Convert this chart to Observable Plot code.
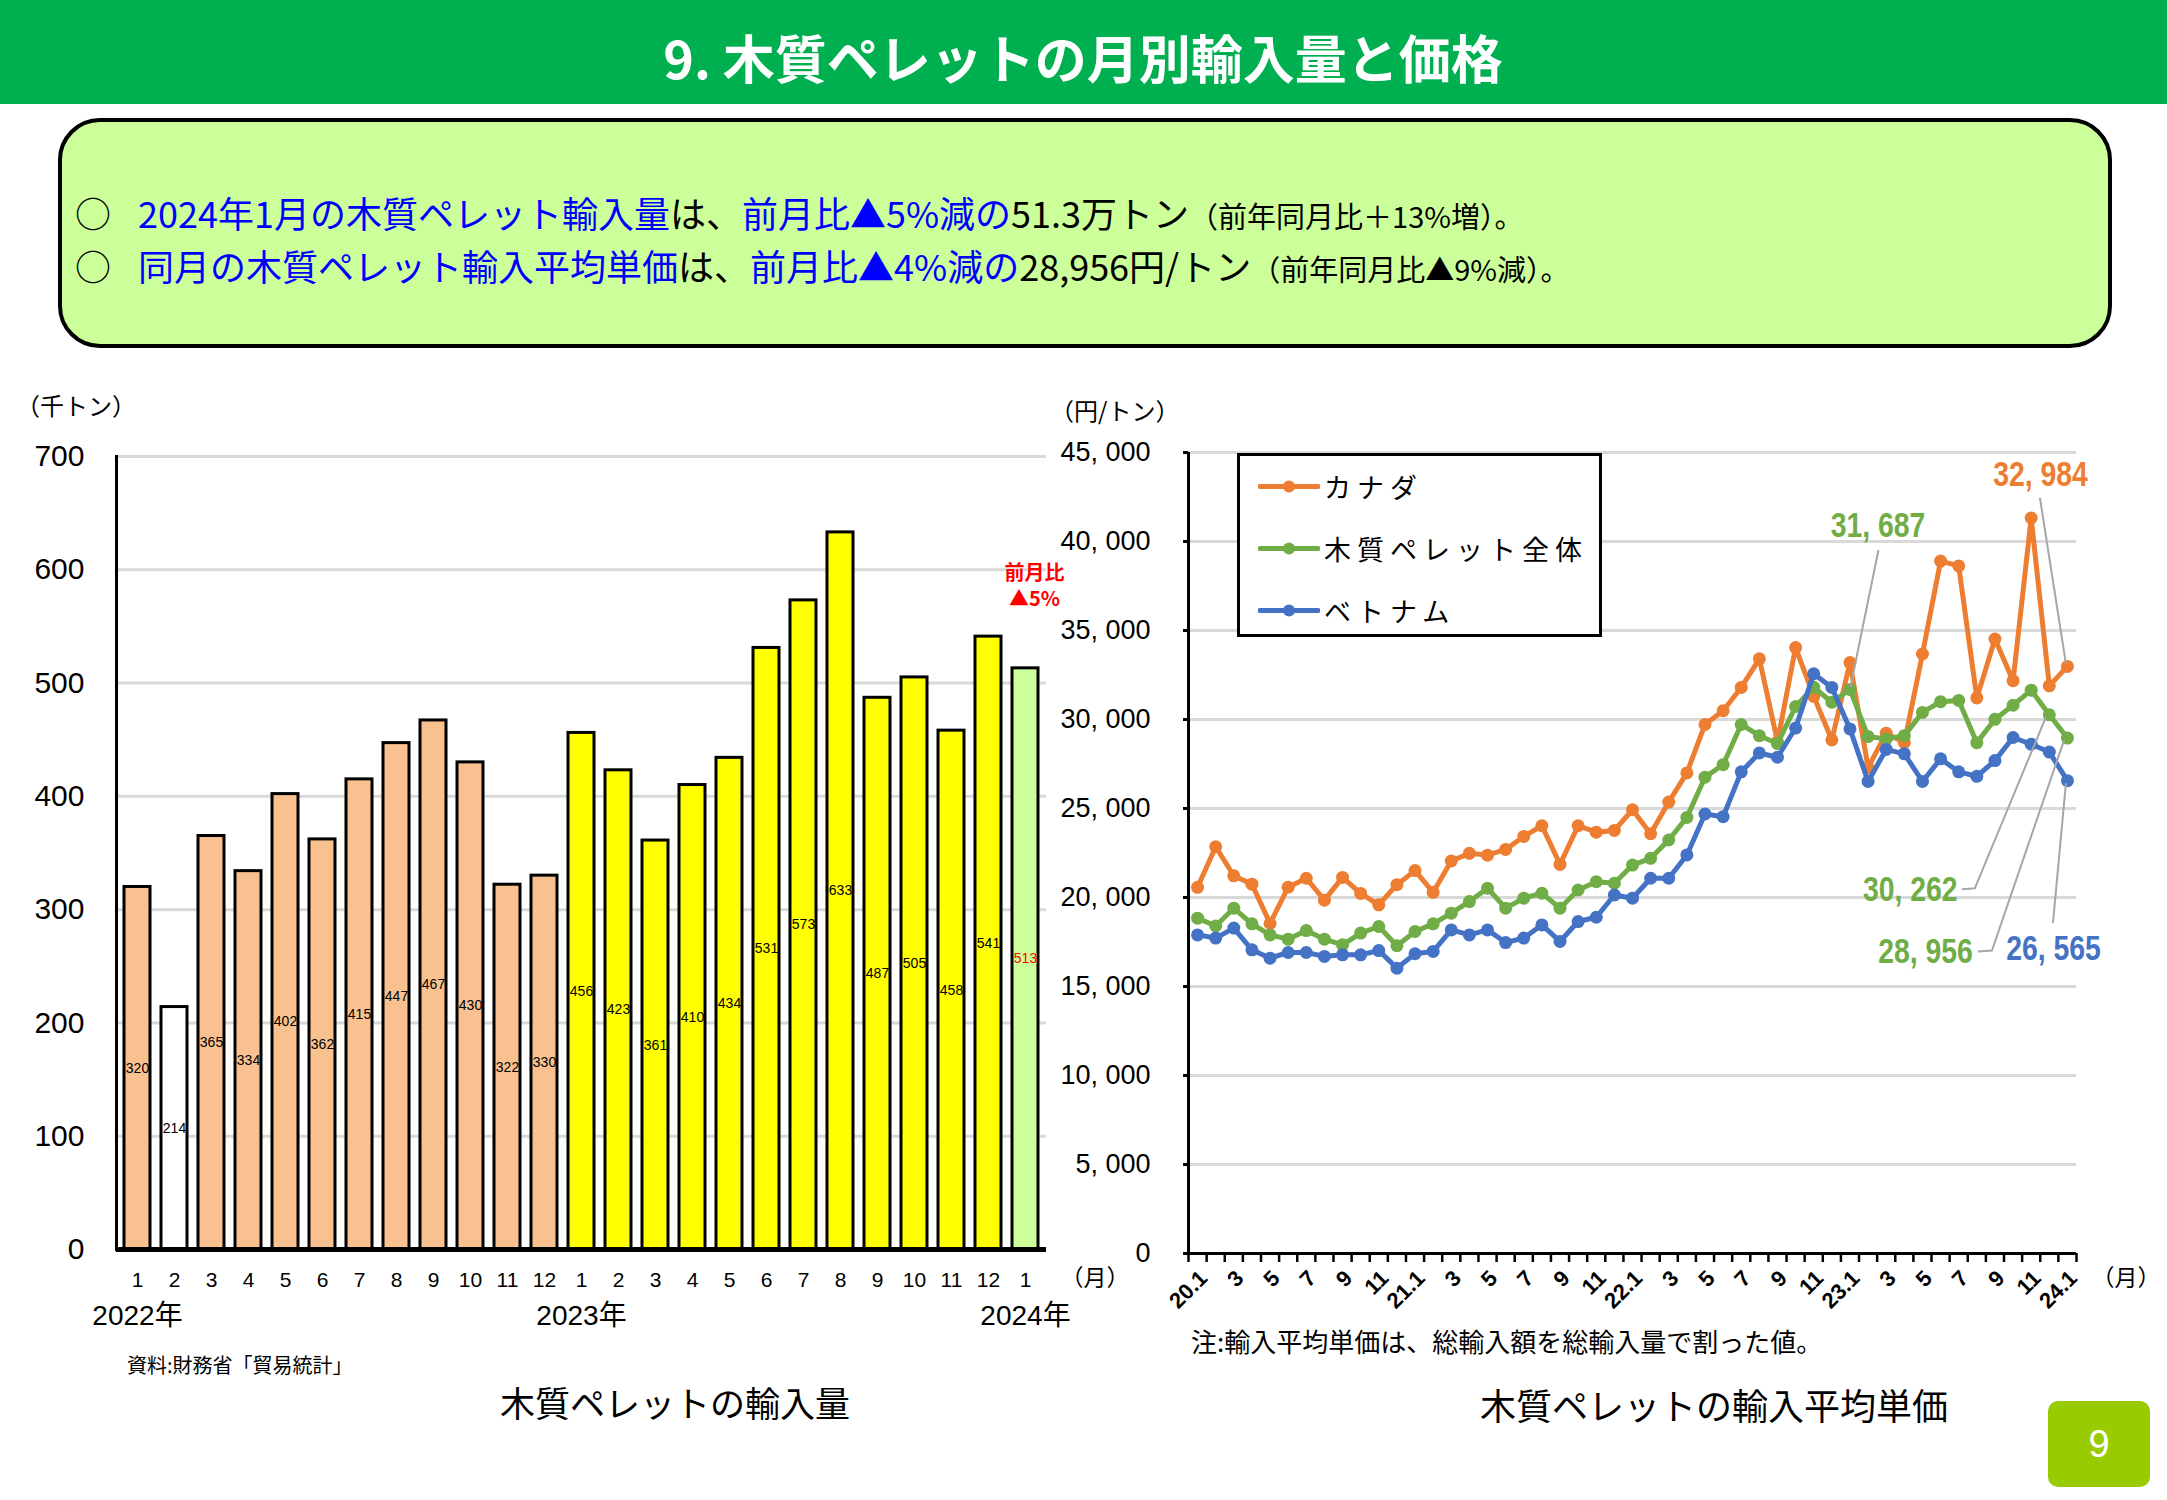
<!DOCTYPE html>
<html>
<head>
<meta charset="utf-8">
<script src="https://cdn.jsdelivr.net/npm/d3@7"></script>
<script src="https://cdn.jsdelivr.net/npm/@observablehq/plot@0.6"></script>
<style>
  body { margin: 0; background: #fff; }
  #page { position: relative; width: 2167px; height: 1500px; overflow: hidden; font-family: 'Noto Sans CJK JP', sans-serif; color: #000; background: #fff; }
  .abs { position: absolute; white-space: nowrap; }
  .blue { color: #0000ff; }
</style>
</head>
<body>
<div id="page">
  <div class="abs" style="left:0;top:0;width:2167px;height:104px;background:#00B050;"></div>
  <div class="abs" style="left:1083px;top:56px;transform:translate(-50%,-50%);color:#fff;font-size:52px;font-weight:bold;">9. 木質ペレットの月別輸入量と価格</div>

  <div class="abs" style="left:58px;top:118px;width:2054px;height:230px;box-sizing:border-box;border:4px solid #000;border-radius:42px;background:#CCFF99;"></div>
  <div class="abs" style="left:75px;top:212px;transform:translateY(-50%);font-size:36px;line-height:1;">
    <span>○</span><span class="blue" style="margin-left:27px;">2024年1月の木質ペレット輸入量</span>は、<span class="blue">前月比▲5%減の</span>51.3万トン<span style="font-size:29px;">（前年同月比＋13%増）。</span>
  </div>
  <div class="abs" style="left:75px;top:265px;transform:translateY(-50%);font-size:36px;line-height:1;">
    <span>○</span><span class="blue" style="margin-left:27px;">同月の木質ペレット輸入平均単価</span>は、<span class="blue">前月比▲4%減の</span>28,956円/トン<span style="font-size:29px;">（前年同月比▲9%減）。</span>
  </div>

  <div class="abs" style="left:16px;top:404px;transform:translateY(-50%);font-size:24px;">（千トン）</div>
  <div class="abs" style="left:1050px;top:409px;transform:translateY(-50%);font-size:24px;">（円/トン）</div>

  <div id="bars" class="abs" style="left:0;top:420px;width:1150px;height:900px;"></div>
  <div id="lines" class="abs" style="left:1040px;top:420px;width:1127px;height:900px;"></div>

  <div class="abs" style="left:1095px;top:1276px;transform:translate(-50%,-50%);font-size:23px;">（月）</div>
  <div class="abs" style="left:2126px;top:1276px;transform:translate(-50%,-50%);font-size:23px;">（月）</div>

  <div class="abs" style="left:127px;top:1364px;transform:translateY(-50%);font-size:20px;">資料:財務省「貿易統計」</div>
  <div class="abs" style="left:1191px;top:1340px;transform:translateY(-50%);font-size:26px;">注:輸入平均単価は、総輸入額を総輸入量で割った値。</div>
  <div class="abs" style="left:675px;top:1401px;transform:translate(-50%,-50%);font-size:35px;">木質ペレットの輸入量</div>
  <div class="abs" style="left:1714px;top:1404px;transform:translate(-50%,-50%);font-size:36px;">木質ペレットの輸入平均単価</div>

  <div class="abs" style="left:2048px;top:1401px;width:102px;height:86px;border-radius:10px;background:#99CC00;color:#fff;font-family:'Liberation Sans',Arial,sans-serif;font-size:38px;line-height:86px;text-align:center;">9</div>

  <div id="legend" class="abs" style="left:1237px;top:453px;width:365px;height:184px;box-sizing:border-box;border:3px solid #000;background:#fff;"></div>
</div>

<script>
// ---------------- data ----------------
const barMonths = ["1","2","3","4","5","6","7","8","9","10","11","12",
                   "1","2","3","4","5","6","7","8","9","10","11","12","1"];
const barYears  = [2022,2022,2022,2022,2022,2022,2022,2022,2022,2022,2022,2022,
                   2023,2023,2023,2023,2023,2023,2023,2023,2023,2023,2023,2023,2024];
const barValues = [320,214,365,334,402,362,415,447,467,430,322,330,
                   456,423,361,410,434,531,573,633,487,505,458,541,513];
const barTicks = [0,100,200,300,400,500,600,700];

const priceMonths = ["20.1","2","3","4","5","6","7","8","9","10","11","12",
                     "21.1","2","3","4","5","6","7","8","9","10","11","12",
                     "22.1","2","3","4","5","6","7","8","9","10","11","12",
                     "23.1","2","3","4","5","6","7","8","9","10","11","12",
                     "24.1"];
const canada = [20570,22850,21220,20750,18540,20580,21080,19850,21130,20230,19590,20720,
                21510,20290,22050,22480,22380,22700,23430,24030,21860,24030,23670,23770,
                24930,23580,25360,27000,29720,30490,31800,33410,28750,34040,31300,28850,
                33200,27300,29230,28700,33680,38900,38630,31210,34520,32180,41320,31890,
                32984];
const pelletTotal = [18840,18400,19400,18520,17900,17660,18140,17660,17340,18000,18370,17290,
                     18090,18520,19120,19770,20520,19400,19960,20240,19400,20420,20890,20800,
                     21820,22200,23230,24500,26760,27460,29720,29090,28650,30730,31810,30970,
                     31687,29040,28900,29090,30400,31000,31070,28700,30010,30800,31650,30262,
                     28956];
const vietnam = [17900,17720,18280,17060,16590,16910,16910,16690,16780,16780,17020,16030,
                 16840,16970,18180,17900,18180,17470,17720,18460,17530,18650,18890,20140,
                 19960,21080,21080,22390,24690,24540,27060,28120,27880,29520,32570,31800,
                 29470,26520,28320,28070,26520,27790,27060,26810,27690,28990,28610,28170,
                 26565];
const priceTicks = [0,5000,10000,15000,20000,25000,30000,35000,40000,45000];
const seriesNames = ["カナダ","木質ペレット全体","ベトナム"];

// ---------------- styles ----------------
const seriesColors = ["#ED7D31","#70AD47","#4472C4"];
const yearFill = {2022:"#F9C090", 2023:"#FFFF00", 2024:"#CCFF99"};
const latinFont = "'Liberation Sans', Arial, 'Noto Sans CJK JP', sans-serif";
const narrowFont = "'Liberation Sans Narrow', 'Arial Narrow', 'Liberation Sans', sans-serif";

// ---------------- bar chart ----------------
const barKeys = barValues.map((v, i) => barYears[i] + "-" + barMonths[i]);
const barData = barValues.map((v, i) => ({key: barKeys[i], year: barYears[i], month: barMonths[i], value: v}));
const lastBar = barData[barData.length - 1];

const barPlot = Plot.plot({
  width: 1150, height: 900,
  marginLeft: 116, marginRight: 104, marginTop: 36, marginBottom: 71,
  style: {fontFamily: latinFont, background: "transparent", overflow: "visible", color: "#000"},
  x: {type: "band", domain: barKeys, paddingInner: 0.3, paddingOuter: 0.15, axis: null},
  y: {domain: [0, 700], axis: null},
  color: {type: "identity"},
  marks: [
    Plot.gridY(barTicks, {stroke: "#d9d9d9", strokeOpacity: 1, strokeWidth: 3}),
    Plot.axisY(barTicks, {tickSize: 0, tickPadding: 32, fontSize: 30, label: null}),
    Plot.axisX(barKeys, {tickSize: 0, tickPadding: 23, fontSize: 21, label: null,
                         tickFormat: k => barMonths[barKeys.indexOf(k)]}),
    Plot.barY(barData, {x: "key", y: "value",
      fill: d => (d.year === 2022 && d.month === "2") ? "#ffffff" : yearFill[d.year],
      stroke: "#000", strokeWidth: 3}),
    Plot.text(barData, {x: "key", y: d => d.value / 2, text: d => String(d.value),
      fill: d => d === lastBar ? "#ff0000" : "#000000", fontSize: 14}),
    Plot.text(barData.filter((d, i) => i === 0 || d.year !== barData[i - 1].year),
      {x: "key", text: d => d.year + "年", frameAnchor: "bottom", dy: 75, fontSize: 28}),
    Plot.text([lastBar], {x: "key", y: "value", text: () => "前月比\n▲5%", lineAnchor: "bottom",
      dx: 9, dy: -62, lineHeight: 1.3, fill: "#ff0000", fontWeight: "bold", fontSize: 20,
      fontFamily: "'Noto Sans CJK JP', sans-serif"}),
    Plot.ruleY([0], {stroke: "#000", strokeWidth: 5}),
    Plot.frame({anchor: "left", stroke: "#000", strokeWidth: 3})
  ]
});
document.getElementById("bars").appendChild(barPlot);

// ---------------- line chart ----------------
const seriesValues = [canada, pelletTotal, vietnam];
const lineData = seriesNames.flatMap((s, k) => seriesValues[k].map((v, i) => ({series: s, k, i, v})));
const labelIdx = priceMonths.map((m, i) => i).filter(i => priceMonths[i].includes(".") || (+priceMonths[i]) % 2 === 1);
const boundaries = d3.range(priceMonths.length + 1).map(i => i - 0.5);
const fmtYen = d => d3.format(",")(d).replace(",", ", ");

// annotation layout (pixel offsets from the annotated point)
const notes = [
  {k: 0, i: 48, dx: -27, dy: -192, leader: [[-1, -2], [-27, -168]]},
  {k: 1, i: 36, dx: 28,  dy: -164, leader: [[1, -2], [29, -139]]},
  {k: 1, i: 47, dx: -139, dy: 175, leader: [[-87, 175], [-74, 174], [-3, 3]]},
  {k: 1, i: 48, dx: -142, dy: 214, leader: [[-89, 214], [-75, 213], [-3, 3]]},
  {k: 2, i: 48, dx: -14, dy: 168, leader: [[-14, 143], [-1, 3]]}
];

const seriesMarks = seriesNames.flatMap((s, k) => {
  const d = lineData.filter(e => e.k === k);
  return [
    Plot.line(d, {x: "i", y: "v", stroke: seriesColors[k], strokeWidth: 5}),
    Plot.dot(d, {x: "i", y: "v", fill: seriesColors[k], r: 6.5})
  ];
});
const noteMarks = notes.map(n => Plot.text([{i: n.i, v: seriesValues[n.k][n.i]}], {
  x: "i", y: "v", text: d => fmtYen(d.v), dx: n.dx, dy: n.dy,
  fill: seriesColors[n.k], fontWeight: "bold", fontSize: 35, fontFamily: narrowFont
}));

const linePlot = Plot.plot({
  width: 1127, height: 900,
  marginLeft: 148, marginRight: 91, marginTop: 32, marginBottom: 67,
  style: {fontFamily: latinFont, background: "transparent", overflow: "visible", color: "#000"},
  x: {type: "linear", domain: [-0.5, priceMonths.length - 0.5], axis: null},
  y: {domain: [0, 45000], axis: null},
  marks: [
    Plot.gridY(priceTicks, {stroke: "#d9d9d9", strokeOpacity: 1, strokeWidth: 3}),
    Plot.axisY(priceTicks, {tickSize: 5, tickPadding: 33, fontSize: 27, label: null, tickFormat: fmtYen, strokeWidth: 3}),
    Plot.axisX(boundaries, {tickSize: 9, tickFormat: () => "", label: null, strokeWidth: 2.5}),
    Plot.axisX(labelIdx, {tickSize: 0, tickPadding: 15, rotate: -45, textAnchor: "end", fontSize: 22,
      fontWeight: "bold", label: null, tickFormat: i => priceMonths[i]}),
    ...seriesMarks,
    Plot.ruleY([0], {stroke: "#000", strokeWidth: 3}),
    Plot.ruleX([-0.5], {stroke: "#000", strokeWidth: 3}),
    ...noteMarks
  ]
});
document.getElementById("lines").appendChild(linePlot);

// condense the value labels (narrow bold look of the original)
const noteTexts = new Set(notes.map(n => fmtYen(seriesValues[n.k][n.i])));
d3.select(linePlot).selectAll("text").each(function () {
  if (noteTexts.has(this.textContent)) {
    const L = this.getComputedTextLength();
    this.setAttribute("textLength", (L * 0.81).toFixed(1));
    this.setAttribute("lengthAdjust", "spacingAndGlyphs");
  }
});

// leader lines for the value labels
const sx = linePlot.scale("x"), sy = linePlot.scale("y");
const svgSel = d3.select(linePlot);
notes.forEach(n => {
  const px = sx.apply(n.i), py = sy.apply(seriesValues[n.k][n.i]);
  svgSel.append("path")
    .attr("d", d3.line()(n.leader.map(([ox, oy]) => [px + ox, py + oy])))
    .attr("fill", "none").attr("stroke", "#A6A6A6").attr("stroke-width", 2);
});

// ---------------- legend ----------------
const legend = d3.select("#legend");
seriesNames.forEach((s, k) => {
  const row = legend.append("div")
    .style("position", "absolute").style("left", "18px").style("top", (30 + k * 62) + "px")
    .style("transform", "translateY(-50%)").style("display", "flex").style("align-items", "center")
    .style("white-space", "nowrap");
  const sw = row.append("svg").attr("width", 62).attr("height", 20);
  sw.append("line").attr("x1", 2).attr("x2", 60).attr("y1", 10).attr("y2", 10)
    .attr("stroke", seriesColors[k]).attr("stroke-width", 5).attr("stroke-linecap", "round");
  sw.append("circle").attr("cx", 31).attr("cy", 10).attr("r", 6).attr("fill", seriesColors[k]);
  row.append("span").text(s).style("font-size", "27px").style("letter-spacing", "6px")
    .style("margin-left", "4px").style("line-height", "1");
});
</script>
</body>
</html>
